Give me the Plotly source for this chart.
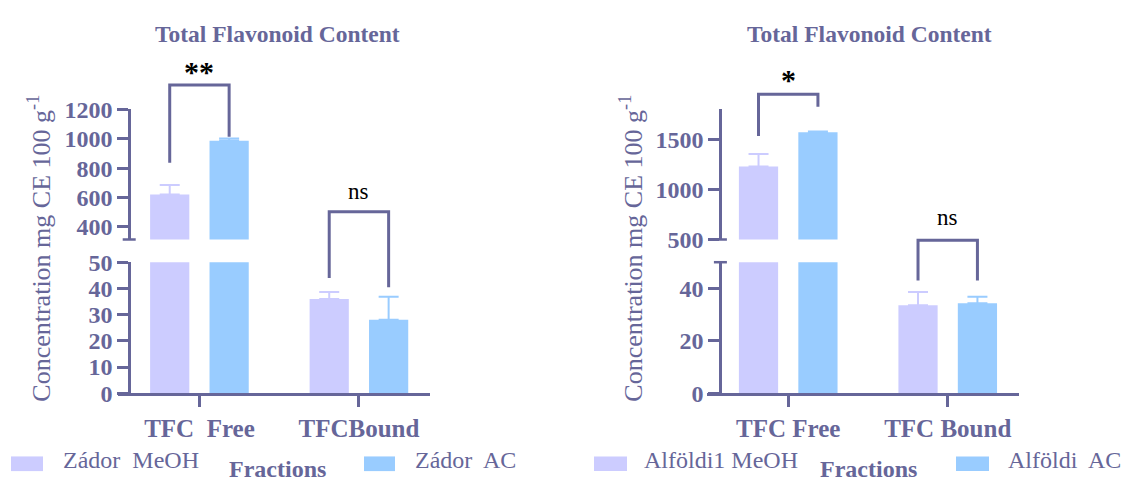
import plotly.graph_objects as go

W, H = 1121, 486

# ---------------- data ----------------
categories_zador = ["TFC\u00a0 Free", "TFCBound"]
categories_alfoldi = ["TFC Free", "TFC Bound"]

zador_meoh = [620, 36.0]
zador_meoh_err = [65, 2.6]
zador_ac = [986, 28.0]
zador_ac_err = [15, 8.8]

alfoldi_meoh = [1228, 33.6]
alfoldi_meoh_err = [125, 5.0]
alfoldi_ac = [1570, 34.3]
alfoldi_ac_err = [7, 2.5]

names_zador = ["Zádor\u00a0 MeOH", "Zádor\u00a0 AC"]
names_alfoldi = ["Alföldi1 MeOH", "Alföldi\u00a0 AC"]

upper_ticks_zador = [400, 600, 800, 1000, 1200]
lower_ticks_zador = [0, 10, 20, 30, 40, 50]
upper_ticks_alfoldi = [500, 1000, 1500]
lower_ticks_alfoldi = [0, 20, 40]

# significance: (label, category index, top, left leg end, right leg end, axis, label gap px)
sig_zador = [("**", 0, 1365, 836, 1013, "y2", 14), ("ns", 1, 69.3, 44.0, 40.4, "y", 21)]
sig_alfoldi = [("*", 0, 1951, 1533, 1825, "y4", 15), ("ns", 1, 58.4, 43.0, 43.0, "y3", 24)]

# ---------------- style ----------------
INK = "#666699"
MEOH = "#ccccff"
AC = "#99ccff"
SERIF = "Liberation Serif"
BARGAP = 0.255
GROUPGAP = 0.34
HALF = (1 - BARGAP) / 4  # centre offset of each bar within a group

# pixel layout of axes (bottom px, top px)
AXES = {
    "y": dict(rng=[0, 50], dom=(401.7, 263.3), pos=129.2, ticks=lower_ticks_zador),
    "y2": dict(rng=[315, 1200], dom=(239.3, 101.7), pos=129.2, ticks=upper_ticks_zador),
    "y3": dict(rng=[0, 50], dom=(401.7, 263.3), pos=720.4, ticks=lower_ticks_alfoldi),
    "y4": dict(rng=[500, 1800], dom=(239.3, 101.7), pos=720.4, ticks=upper_ticks_alfoldi),
}
XDOM = {"x": (118.4, 429.9), "x2": (707.2, 1018.7)}
XRANGE = [-0.508, 1.445]


def px(x):
    return x / W


def py(y):
    return 1 - y / H


def ypaper(v, key):
    a = AXES[key]
    r0, r1 = a["rng"]
    b, t = a["dom"]
    return py(b + (v - r0) / (r1 - r0) * (t - b))


def bar(x, vals, errs, color, xa, ya):
    return go.Bar(
        x=x, y=vals, xaxis=xa, yaxis=ya, showlegend=False,
        marker=dict(color=color, line=dict(width=0)),
        error_y=dict(type="data", symmetric=False, array=errs,
                     arrayminus=[0] * len(errs), color=color,
                     thickness=2, width=10),
    )


fig = go.Figure()
for ya in ("y", "y2"):
    fig.add_trace(bar(categories_zador, zador_meoh, zador_meoh_err, MEOH, "x", ya))
    fig.add_trace(bar(categories_zador, zador_ac, zador_ac_err, AC, "x", ya))
for ya in ("y3", "y4"):
    fig.add_trace(bar(categories_alfoldi, alfoldi_meoh, alfoldi_meoh_err, MEOH, "x2", ya))
    fig.add_trace(bar(categories_alfoldi, alfoldi_ac, alfoldi_ac_err, AC, "x2", ya))

tickfont = dict(family=SERIF, size=24, color=INK, weight="bold")
layout = dict(
    width=W, height=H, margin=dict(l=0, r=0, t=0, b=0),
    paper_bgcolor="white", plot_bgcolor="rgba(0,0,0,0)",
    barmode="group", bargap=BARGAP, bargroupgap=GROUPGAP,
    showlegend=False,
)
for key, a in AXES.items():
    layout[key.replace("y", "yaxis")] = dict(
        domain=[py(a["dom"][0]), py(a["dom"][1])], range=a["rng"],
        tickvals=a["ticks"], ticks="outside", ticklen=11, tickwidth=2.5,
        tickcolor=INK, showline=True, linewidth=3, linecolor=INK,
        showgrid=False, zeroline=False, anchor="free", position=px(a["pos"]),
        tickfont=tickfont, fixedrange=True,
    )
for key, d in XDOM.items():
    layout[key.replace("x", "xaxis")] = dict(
        domain=[px(d[0]), px(d[1])], range=XRANGE, type="category",
        anchor="y" if key == "x" else "y3",
        showline=True, linewidth=3, linecolor=INK, ticks="outside",
        ticklen=11, tickwidth=2.5, tickcolor=INK, showgrid=False,
        zeroline=False, fixedrange=True,
        tickfont=dict(family=SERIF, size=25, color=INK, weight="bold"),
    )
fig.update_layout(**layout)

shapes = []
annotations = []


def note(x, y, text, size, color=INK, bold=False, xanchor="center",
         xref="paper", angle=0):
    annotations.append(dict(
        x=x, y=y, xref=xref, yref="paper", text=text, showarrow=False,
        xanchor=xanchor, yanchor="middle", textangle=angle,
        font=dict(family=SERIF, size=size, color=color,
                  weight="bold" if bold else "normal")))


# axis break caps
for key, edge in (("y2", 0), ("y4", 0), ("y3", 1)):
    a = AXES[key]
    v = a["rng"][edge]
    shapes.append(dict(type="line", xref="paper", yref="paper",
                       x0=px(a["pos"] - 6.5), x1=px(a["pos"] + 6.5),
                       y0=ypaper(v, key), y1=ypaper(v, key),
                       line=dict(color=INK, width=2.5)))

# significance brackets
for xa, sigs in (("x", sig_zador), ("x2", sig_alfoldi)):
    for label, c, top, l_end, r_end, ya, gap in sigs:
        xl, xr = c - HALF, c + HALF
        path = (f"M{xl},{ypaper(l_end, ya)} L{xl},{ypaper(top, ya)} "
                f"L{xr},{ypaper(top, ya)} L{xr},{ypaper(r_end, ya)}")
        shapes.append(dict(type="path", xref=xa, yref="paper", path=path,
                           line=dict(color=INK, width=3)))
        is_star = "*" in label
        note(c, ypaper(top, ya) + gap / H, label,
             30 if is_star else 23, color="black", bold=is_star, xref=xa)

# titles
for cx in (277, 869):
    note(px(cx), py(22.5), "Total Flavonoid Content", 23.5, bold=True)
# y-axis titles
for cx in (40, 632):
    note(px(cx), py(249), "Concentration mg CE 100 g<sup>-1</sup>", 26, angle=-90)

# legend rows + x-axis title "Fractions"
legend_rows = [
    (names_zador, (11, 43, 61), (364, 395, 413), 277),
    (names_alfoldi, (594, 627, 642), (956, 989, 1006), 868),
]
for names, s1, s2, fx in legend_rows:
    for name, (sx0, sx1, tx), col in ((names[0], s1, MEOH), (names[1], s2, AC)):
        shapes.append(dict(type="rect", xref="paper", yref="paper",
                           x0=px(sx0), x1=px(sx1), y0=py(484), y1=py(468.5),
                           fillcolor=col, line=dict(width=0)))
        note(px(tx), py(472), name, 24, xanchor="left")
    note(px(fx), py(482), "Fractions", 24, bold=True)

fig.update_layout(shapes=shapes, annotations=annotations)
fig.write_html(
    "out.html",
    config={"displayModeBar": False},
    post_script=(
        "var gd=document.getElementById('{plot_id}');"
        "document.documentElement.style.margin='0';"
        "document.documentElement.style.overflow='hidden';"
        "document.body.style.margin='0';"
        "document.body.style.overflow='hidden';"
        "gd.style.position='fixed';gd.style.top='0';gd.style.left='0';"
    ),
)
